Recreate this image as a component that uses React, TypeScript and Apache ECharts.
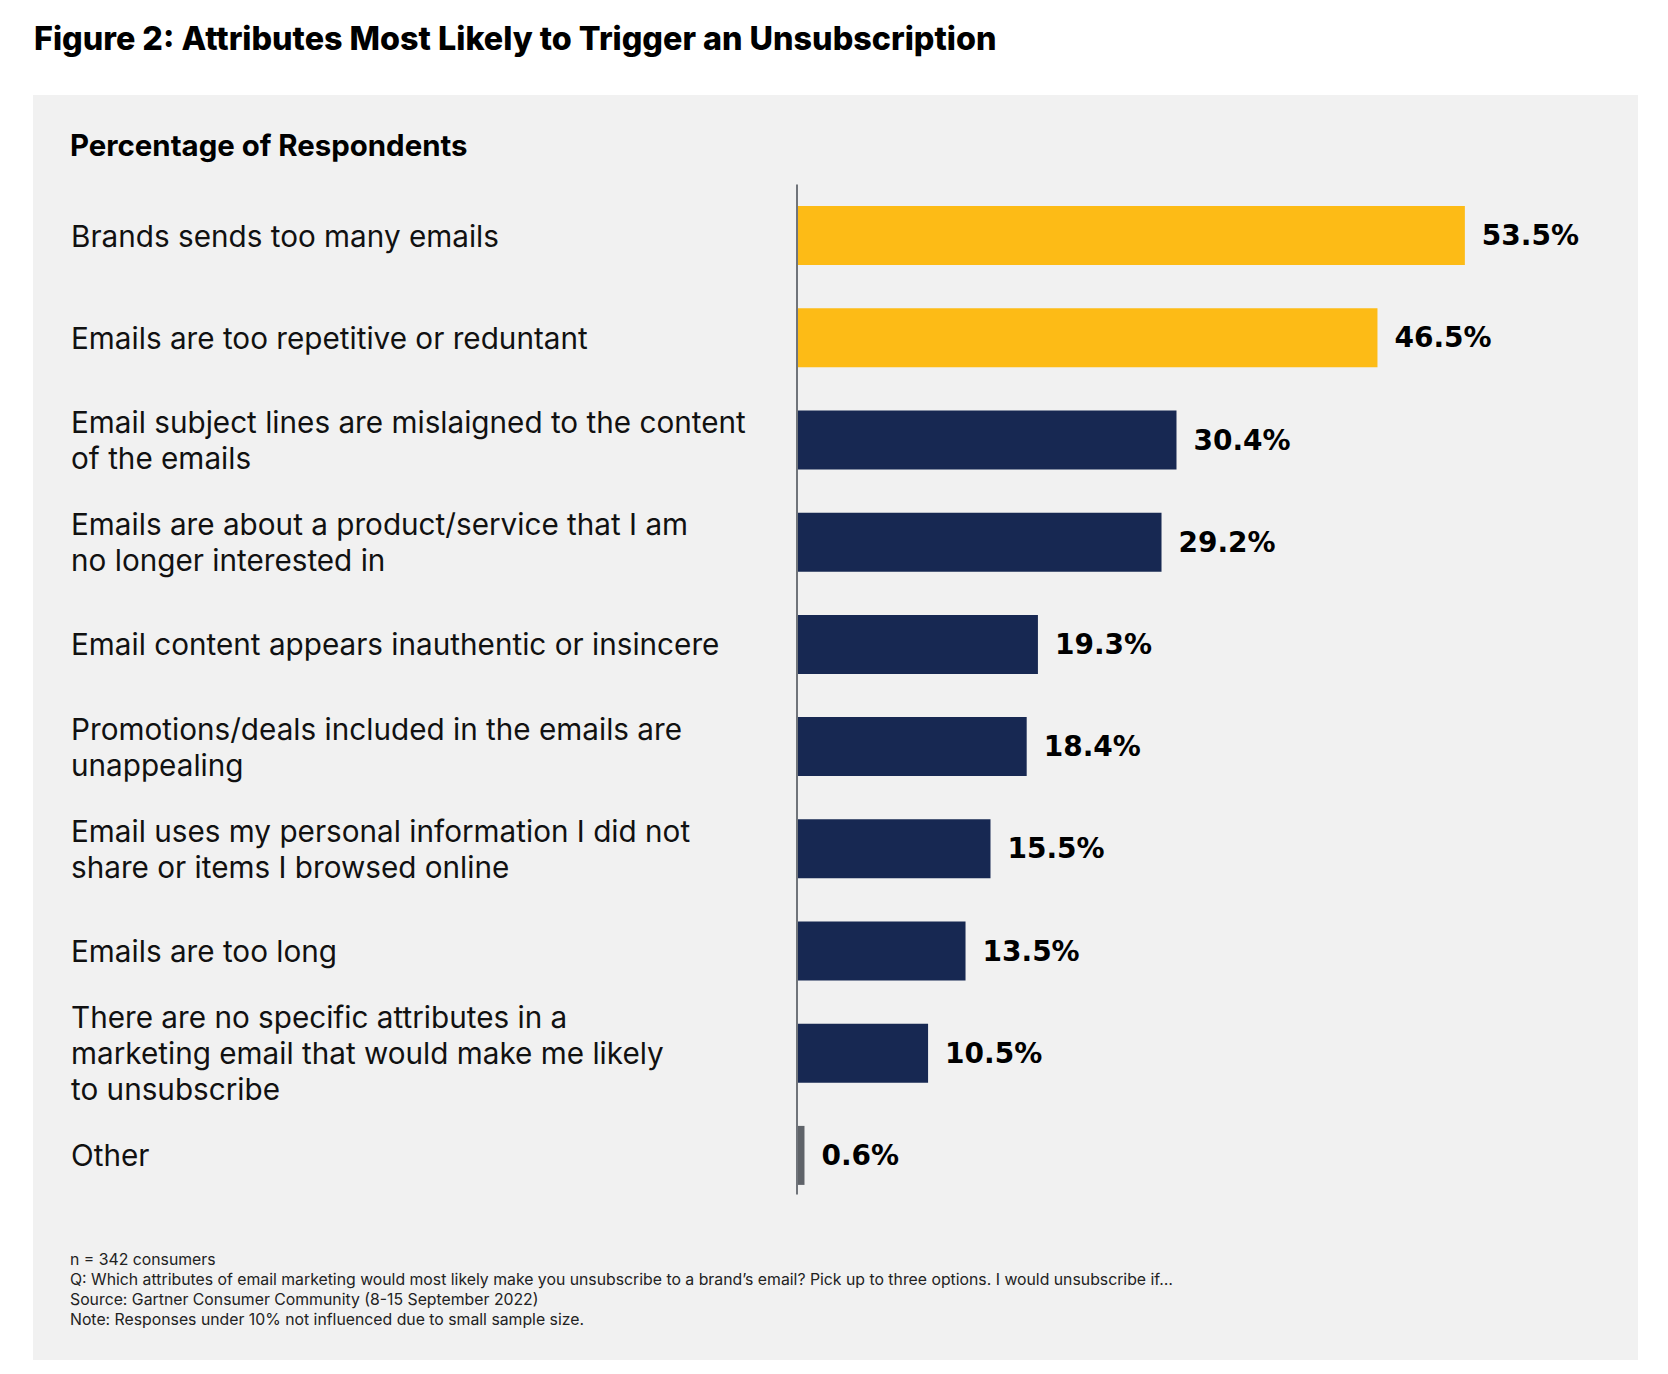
import React, { useEffect, useRef } from "react";
import * as echarts from "echarts";

const categories = [
  "Brands sends too many emails",
  "Emails are too repetitive or reduntant",
  "Email subject lines are mislaigned to the content\nof the emails",
  "Emails are about a product/service that I am\nno longer interested in",
  "Email content appears inauthentic or insincere",
  "Promotions/deals included in the emails are\nunappealing",
  "Email uses my personal information I did not\nshare or items I browsed online",
  "Emails are too long",
  "There are no specific attributes in a\nmarketing email that would make me likely\nto unsubscribe",
  "Other",
];
const values = [53.5, 46.5, 30.4, 29.2, 19.3, 18.4, 15.5, 13.5, 10.5, 0.6];
const groups = ["top", "top", "rest", "rest", "rest", "rest", "rest", "rest", "rest", "other"];

const titleText = "Figure 2: Attributes Most Likely to Trigger an Unsubscription";
const subtitleText = "Percentage of Respondents";
const notes = [
  "n = 342 consumers",
  "Q: Which attributes of email marketing would most likely make you unsubscribe to a brand’s email? Pick up to three options. I would unsubscribe if…",
  "Source: Gartner Consumer Community (8-15 September 2022)",
  "Note: Responses under 10% not influenced due to small sample size.",
];

const groupColors: Record<string, string> = {
  top: "#FDBB16",
  rest: "#172852",
  other: "#5F6369",
};

export default function App() {
  const ref = useRef<HTMLDivElement>(null);
  useEffect(() => {
    if (!ref.current) return;
    const chart = echarts.init(ref.current, undefined, { renderer: "svg" });
    const font = "Inter";
    const baseGraphic: any[] = [
      {
        type: "rect",
        shape: { x: 33, y: 95, width: 1605, height: 1265 },
        style: { fill: "#F1F1F1" },
        z: -10,
        silent: true,
      },
      {
        type: "text",
        x: 34,
        y: 38,
        style: {
          text: titleText,
          fontFamily: font,
          fontWeight: 800,
          fontSize: 32.3,
          fill: "#000",
          textVerticalAlign: "middle",
        },
      },
      {
        type: "text",
        x: 70,
        y: 145,
        style: {
          text: subtitleText,
          fontFamily: font,
          fontWeight: 700,
          fontSize: 29.4,
          fill: "#000",
          textVerticalAlign: "middle",
        },
      },
      ...notes.map((t, i) => ({
        type: "text",
        x: 70,
        y: 1259 + i * 20.3,
        style: {
          text: t,
          fontFamily: font,
          fontSize: 15.8,
          fill: "#222",
          textVerticalAlign: "middle",
        },
      })),
    ];
    chart.setOption({
      animation: false,
      backgroundColor: "#ffffff",
      graphic: baseGraphic,
      grid: { left: 797, right: 122, top: 184.5, bottom: 167.5, containLabel: false },
      xAxis: {
        type: "value",
        min: 0,
        max: 60,
        show: false,
      },
      yAxis: {
        type: "category",
        inverse: true,
        data: categories,
        axisLine: { show: false },
        axisTick: { show: false },
        axisLabel: {
          align: "left",
          margin: 726,
          fontFamily: font,
          fontSize: 29.7,
          lineHeight: 36,
          color: "#111",
        },
      },
      series: [
        {
          type: "bar",
          barWidth: 59,
          data: values.map((v, i) => ({
            value: v,
            itemStyle: { color: groupColors[groups[i]] },
          })),
          label: {
            show: true,
            position: "right",
            distance: 17,
            fontFamily: "DejaVu Sans",
            fontWeight: "bold",
            fontSize: 28,
            color: "#000",
            formatter: (p: any) => `${Number(p.value).toFixed(1)}%`,
          },
        },
      ],
    });
    // axis spine: from the top of the first band to just below the last bar
    const x0 = chart.convertToPixel({ xAxisIndex: 0 }, 0) as number;
    const yFirst = chart.convertToPixel({ yAxisIndex: 0 }, categories[0]) as number;
    const yLast = chart.convertToPixel({ yAxisIndex: 0 }, categories[categories.length - 1]) as number;
    const band = (yLast - yFirst) / (categories.length - 1);
    chart.setOption({
      graphic: [
        ...baseGraphic,
        {
          type: "line",
          shape: { x1: x0, y1: yFirst - band / 2, x2: x0, y2: yLast + 39 },
          style: { stroke: "#70747A", lineWidth: 2 },
          z: 10,
        },
      ],
    });
    return () => chart.dispose();
  }, []);
  return (
    <div
      ref={ref}
      style={{ position: "absolute", left: 0, top: 0, width: 1668, height: 1374 }}
    />
  );
}
